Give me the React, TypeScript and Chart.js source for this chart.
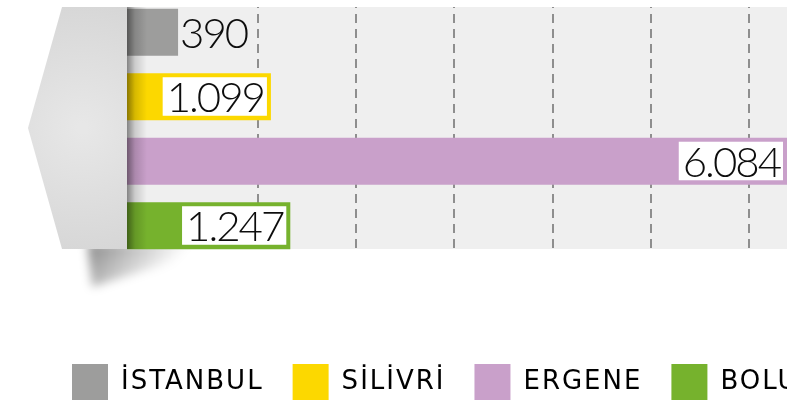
import React, { useEffect, useRef } from "react";
import { Chart, registerables } from "chart.js";

Chart.register(...registerables);

const CATEGORIES = ["İSTANBUL", "SİLİVRİ", "ERGENE", "BOLU"];
const VALUES = [390, 1099, 6084, 1247];
const COLORS = ["#9d9d9c", "#fcd800", "#c9a0ca", "#76b22d"];
const GRID_TICKS = [1000, 1750, 2500, 3250, 4000, 4750];
const X_MAX = 5040;

const CANVAS_W = 870;
const CANVAS_H = 410;
const LEGEND_PAD = 29;

function fmt(v: number): string {
  return String(v).replace(/\B(?=(\d{3})+(?!\d))/g, ".");
}

const LEGEND_SPACING = "2px";

const decorPlugin = {
  id: "decor",
  beforeLayout(chart: any) {
    chart.ctx.letterSpacing = LEGEND_SPACING;
  },
  beforeDraw(chart: any) {
    const { ctx, chartArea: ca } = chart;
    ctx.letterSpacing = LEGEND_SPACING;
    const top = ca.top + 7;
    const bottom = ca.bottom - 9;
    ctx.save();
    ctx.fillStyle = "#efefef";
    ctx.fillRect(ca.left, top, ca.right - ca.left, bottom - top);
    const g = ctx.createRadialGradient(ca.left - 45, (top + bottom) / 2, 5, ca.left - 45, (top + bottom) / 2, 130);
    g.addColorStop(0, "#e7e7e7");
    g.addColorStop(1, "#d6d6d6");
    ctx.fillStyle = g;
    ctx.beginPath();
    ctx.moveTo(ca.left - 65, top);
    ctx.lineTo(ca.left, top);
    ctx.lineTo(ca.left, bottom);
    ctx.lineTo(ca.left - 65, bottom);
    ctx.lineTo(ca.left - 99, (top + bottom) / 2);
    ctx.closePath();
    ctx.fill();
    ctx.restore();
  },
  beforeDatasetsDraw(chart: any) {
    const { ctx, chartArea: ca } = chart;
    const top = ca.top + 7;
    const bottom = ca.bottom - 9;
    ctx.save();
    ctx.fillStyle = "#ffffff";
    ctx.fillRect(ca.left, ca.top, ca.right - ca.left, top - ca.top);
    ctx.fillRect(ca.left, bottom, ca.right - ca.left, ca.bottom - bottom + 1);
    ctx.beginPath();
    ctx.rect(0, bottom, CANVAS_W, 80);
    ctx.clip();
    ctx.filter = "blur(5px)";
    const sg = ctx.createLinearGradient(ca.left - 30, bottom, ca.left + 20, bottom + 45);
    sg.addColorStop(0, "rgba(0,0,0,0.4)");
    sg.addColorStop(1, "rgba(0,0,0,0)");
    ctx.fillStyle = sg;
    ctx.beginPath();
    ctx.moveTo(ca.left - 40, bottom - 6);
    ctx.lineTo(ca.left + 108, bottom - 6);
    ctx.lineTo(ca.left - 35, bottom + 38);
    ctx.closePath();
    ctx.fill();
    ctx.restore();
  },
  afterDatasetsDraw(chart: any) {
    const { ctx, chartArea: ca } = chart;
    const top = ca.top + 7;
    const bottom = ca.bottom - 9;
    ctx.save();
    const lg = ctx.createLinearGradient(ca.left, 0, ca.left + 20, 0);
    lg.addColorStop(0, "rgba(0,0,0,0.45)");
    lg.addColorStop(0.4, "rgba(0,0,0,0.15)");
    lg.addColorStop(1, "rgba(0,0,0,0)");
    ctx.fillStyle = lg;
    ctx.fillRect(ca.left, top, 20, bottom - top);

    const meta = chart.getDatasetMeta(0);
    ctx.font = '300 42px Lato, "DejaVu Sans", sans-serif';
    ctx.letterSpacing = "-2px";
    ctx.textAlign = "left";
    ctx.textBaseline = "alphabetic";
    meta.data.forEach((bar: any, i: number) => {
      const p = bar.getProps(["x", "y", "base", "height"], true);
      const end = Math.min(p.x, ca.right);
      const text = fmt(VALUES[i]);
      const tw = ctx.measureText(text).width;
      const boxW = tw + 7;
      const baseline = p.y + 15.5;
      if (end - p.base >= boxW + 8) {
        const bx = end - 4 - boxW;
        const by = p.y - p.height / 2 + 4;
        ctx.fillStyle = "#ffffff";
        ctx.fillRect(bx, by, boxW, p.height - 8.5);
        ctx.fillStyle = "#0d0d0d";
        ctx.fillText(text, bx + 4, baseline);
      } else {
        ctx.fillStyle = "#0d0d0d";
        ctx.fillText(text, end + 2, baseline);
      }
    });
    ctx.restore();
  },
};

export default function App() {
  const canvasRef = useRef<HTMLCanvasElement | null>(null);

  useEffect(() => {
    const canvas = canvasRef.current;
    if (!canvas) return;
    const chart = new Chart(canvas, {
      type: "bar",
      data: {
        labels: CATEGORIES,
        datasets: [
          {
            label: "Değer",
            data: VALUES,
            backgroundColor: COLORS,
            borderWidth: 0,
            barPercentage: 0.729,
            categoryPercentage: 1,
          },
        ],
      },
      options: {
        indexAxis: "y",
        responsive: false,
        animation: false,
        events: [],
        layout: { padding: { left: 72 - LEGEND_PAD, right: 0, top: 0, bottom: 0 } },
        scales: {
          x: {
            type: "linear",
            min: 0,
            max: X_MAX,
            afterBuildTicks: (scale: any) => {
              scale.ticks = GRID_TICKS.map((v) => ({ value: v }));
            },
            afterFit: (scale: any) => {
              scale.height = 77;
            },
            ticks: { display: false },
            grid: { color: "#8e8e8e", lineWidth: 2, drawTicks: false },
            border: { display: false, dash: [9, 6], dashOffset: 1 },
          },
          y: {
            type: "category",
            position: "left",
            afterFit: (scale: any) => {
              scale.width = 127 - (72 - LEGEND_PAD);
            },
            ticks: { display: false },
            grid: { display: false, drawTicks: false },
            border: { display: false },
          },
          yRight: {
            type: "category",
            position: "right",
            afterFit: (scale: any) => {
              scale.width = CANVAS_W - 787;
            },
            ticks: { display: false },
            grid: { display: false, drawTicks: false },
            border: { display: false },
          },
        },
        plugins: {
          tooltip: { enabled: false },
          legend: {
            display: true,
            position: "bottom",
            align: "start",
            labels: {
              boxWidth: 36,
              boxHeight: 36,
              padding: LEGEND_PAD,
              color: "#1a1a1a",
              font: { family: '"DejaVu Sans", sans-serif', size: 26 },
              generateLabels: () =>
                CATEGORIES.map((c, i) => ({
                  text: c,
                  fillStyle: COLORS[i],
                  strokeStyle: COLORS[i],
                  lineWidth: 0,
                  hidden: false,
                  index: i,
                  datasetIndex: 0,
                })),
            },
          },
        },
      },
      plugins: [decorPlugin],
    } as any);
    return () => chart.destroy();
  }, []);

  return (
    <div style={{ position: "absolute", left: 0, top: 0, width: 787, height: 403, overflow: "hidden", background: "#fff" }}>
      <canvas ref={canvasRef} width={CANVAS_W} height={CANVAS_H} style={{ display: "block" }} />
    </div>
  );
}
